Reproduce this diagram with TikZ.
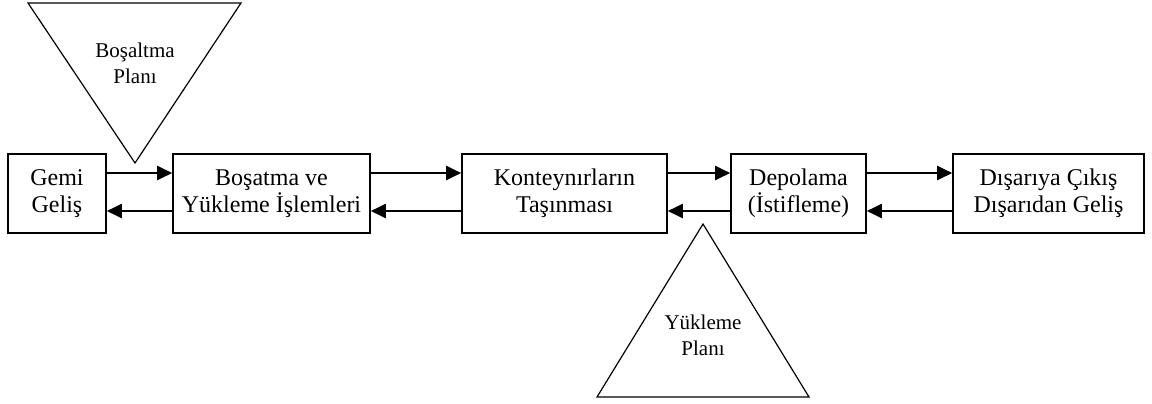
\documentclass[tikz,border=0pt]{standalone}
\usepackage{fontspec}
\setmainfont{Liberation Serif}
\usetikzlibrary{arrows.meta, positioning}

\tikzset{
  box/.style={draw, line width=0.8pt, align=center, inner sep=0pt, minimum height=39.5pt},
  flow/.style={line width=1pt, -{Triangle[length=7.5pt, width=7pt]}},
  plan/.style={draw, line width=0.6pt},
  plantext/.style={align=center, font=\fontsize{10.5}{12.8}\selectfont}
}

\begin{document}
\begin{tikzpicture}[x=0.5pt, y=-0.5pt, font=\fontsize{12}{13.6}\selectfont]
\useasboundingbox (0,0) rectangle (1152,403);

\node[box, minimum width=49pt](gemi) at (57,193.5) {Gemi\\Geliş};
\node[box, minimum width=98.5pt](bosatma) at (271.5,193.5) {Boşatma ve\\Yükleme İşlemleri};
\node[box, minimum width=102.5pt](tasima) at (564.5,193.5) {Konteynırların\\Taşınması};
\node[box, minimum width=67.5pt](depo) at (798.5,193.5) {Depolama\\(İstifleme)};
\node[box, minimum width=95.5pt](disari) at (1048.5,193.5) {Dışarıya Çıkış\\Dışarıdan Geliş};

% ileri / geri oklar
\foreach \a/\b in {gemi/bosatma, bosatma/tasima, tasima/depo, depo/disari}{
  \draw[flow] (\a.east |- 0,173) -- (\b.west |- 0,173);
  \draw[flow] (\b.west |- 0,211) -- (\a.east |- 0,211);
}

% planlar
\draw[plan] (28,3) -- (241,3) -- (135,163) -- cycle;
\node[plantext](bosaltma) at (135,63.5) {Boşaltma\\Planı};

\draw[plan] (703,224) -- (809,397) -- (597,397) -- cycle;
\node[plantext](yukleme) at (703,335.5) {Yükleme\\Planı};
\end{tikzpicture}
\end{document}
